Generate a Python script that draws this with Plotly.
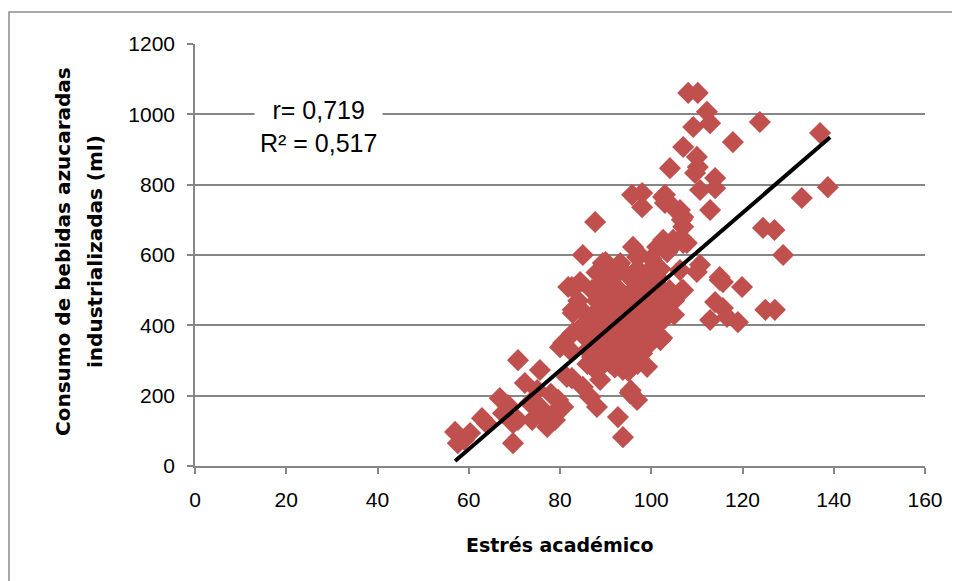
import plotly.graph_objects as go

# Scattered / outer points (Estrés académico, Consumo ml)
outer_x = [57, 57.6, 60.3, 62.9, 70.8, 66.8, 68.6, 69.7, 69.7, 72.3, 75.6, 75, 75.6, 77.2, 79.3, 79.6, 78.9,
           80.7, 82.2, 82.8, 82.8, 82.6, 82.6, 73.4, 70.8, 73.9, 81.8, 82.8, 80, 81.5, 80.7, 85, 86.6, 88.1,
           95.3, 96.9, 92.7, 93.8, 99.1, 107, 103.5, 102, 88.8, 93.8, 91, 96.9, 85, 87.7, 89.4, 93.2, 90.3,
           84.4, 96, 96.9, 97.5, 101.3, 103.5, 105.6, 107.8, 99.7, 101.3, 106.3, 95.8, 98, 98, 102.6, 104.8,
           107, 107, 103, 106.3, 112.9, 106.7, 102.6, 107, 104.8, 110.7, 115, 108.1, 110.2, 112.2, 109.2,
           112.9, 117.9, 107, 110, 104.1, 110.2, 109.6, 114, 110.7, 114, 103, 123.8, 137, 133, 138.7, 124.5,
           127, 128.9, 115.7, 119.9, 115.7, 125, 127.1, 119, 116.6, 115, 106.7, 114, 112.9, 103.5, 102.4,
           104, 110, 59, 64, 67.5, 78, 76, 95.5]
outer_y = [97, 65, 94, 136, 301, 193, 173, 122, 65, 236, 273, 216, 168, 111, 159, 188, 131,
           350, 330, 435, 378, 250, 509, 179, 131, 131, 509, 444, 338, 253, 168, 225, 196, 168,
           208, 188, 139, 82, 282, 500, 464, 358, 245, 273, 293, 310, 600, 694, 577, 577, 549,
           523, 623, 594, 600, 623, 608, 637, 634, 557, 537, 557, 771, 776, 736, 765, 736,
           708, 680, 748, 728, 728, 700, 643, 634, 643, 572, 537, 1061, 1061, 1007, 964,
           975, 921, 907, 879, 847, 850, 833, 819, 785, 790, 771, 978, 947, 762, 793, 677,
           671, 600, 523, 509, 449, 444, 444, 409, 424, 529, 500, 466, 415, 435, 364,
           480, 552, 75, 120, 150, 205, 145, 215]

# Dense central cluster
core_x = [84, 85, 85, 86, 86, 86, 87, 87, 87, 87, 88, 88, 88, 88, 88, 89, 89, 89, 89, 89, 90, 90, 90, 90, 90,
          91, 91, 91, 91, 91, 92, 92, 92, 92, 92, 93, 93, 93, 93, 94, 94, 94, 94, 94, 95, 95, 95, 95, 95,
          96, 96, 96, 96, 97, 97, 97, 97, 97, 98, 98, 98, 98, 99, 99, 99, 99, 100, 100, 100, 100, 100,
          101, 101, 101, 101, 102, 102, 102, 103, 103, 104, 104, 105, 105]
core_y = [470, 440, 400, 360, 330, 290, 500, 420, 380, 310, 550, 470, 440, 350, 270, 520, 410, 380, 320, 290,
          580, 490, 450, 360, 300, 560, 520, 430, 400, 330, 540, 480, 450, 370, 280, 500, 420, 350, 310,
          470, 440, 390, 330, 290, 540, 450, 410, 360, 270, 500, 430, 380, 330, 560, 470, 400, 350, 290,
          520, 440, 370, 320, 480, 420, 390, 340, 590, 500, 450, 400, 360, 520, 470, 430, 380, 560, 490,
          410, 450, 420, 500, 440, 470, 430]

# Linear trend line endpoints
trend_x = [57, 139.2]
trend_y = [14, 935]

x_ticks = [0, 20, 40, 60, 80, 100, 120, 140, 160]
y_ticks = [0, 200, 400, 600, 800, 1000, 1200]

red = "#C0504D"
grid = "#868686"
font_fam = "Liberation Sans, Arial, sans-serif"
title_fam = "DejaVu Sans, Liberation Sans, sans-serif"

# target screen pixels of the plot area; page body adds an 8px offset
OFF = 8
L, R, T, B = 195, 925, 44, 466
W, H = R - L, B - T

def px(xp):
    return (xp - L) / W

def py(yp):
    return (B - yp) / H

fig = go.Figure()
fig.add_trace(go.Scatter(x=outer_x + core_x, y=outer_y + core_y, mode="markers",
                         marker=dict(symbol="diamond", size=17, color=red, line=dict(width=0)),
                         showlegend=False, hoverinfo="skip"))
fig.add_trace(go.Scatter(x=trend_x, y=trend_y, mode="lines",
                         line=dict(color="black", width=4), showlegend=False, hoverinfo="skip"))

fig.update_layout(
    width=960, height=581,
    margin=dict(l=L - OFF, r=960 - R + OFF, t=T - OFF, b=581 - B + OFF, autoexpand=False),
    paper_bgcolor="white", plot_bgcolor="white",
    font=dict(family=font_fam, size=20, color="black"),
    xaxis=dict(range=[0, 160], tickvals=x_ticks, ticktext=[str(v) for v in x_ticks],
               showgrid=False, zeroline=False, showline=True, linecolor=grid, linewidth=1.5,
               ticks="outside", ticklen=6, tickcolor=grid, tickwidth=1.5, automargin=False,
               ticklabelstandoff=8,
               tickfont=dict(size=21, family=font_fam)),
    yaxis=dict(range=[0, 1200], tickvals=y_ticks, ticktext=[str(v) for v in y_ticks],
               showgrid=True, gridcolor=grid, gridwidth=1.5, zeroline=False,
               showline=True, linecolor=grid, linewidth=1.5,
               ticks="outside", ticklen=6, tickcolor=grid, tickwidth=1.5, automargin=False,
               ticklabelstandoff=8,
               tickfont=dict(size=21, family=font_fam)),
)

# axis titles
fig.add_annotation(xref="paper", yref="paper", x=px(560), y=py(545), xanchor="center", yanchor="middle",
                   text="<b>Estrés académico</b>", showarrow=False,
                   font=dict(size=19, family=title_fam, color="black"))
fig.add_annotation(xref="paper", yref="paper", x=px(63), y=py(252), xanchor="center", yanchor="middle",
                   text="<b>Consumo de bebidas azucaradas</b>", showarrow=False,
                   textangle=-90, font=dict(size=20, family=title_fam, color="black"))
fig.add_annotation(xref="paper", yref="paper", x=px(95), y=py(252), xanchor="center", yanchor="middle",
                   text="<b>industrializadas (ml)</b>", showarrow=False,
                   textangle=-90, font=dict(size=20, family=title_fam, color="black"))

fig.add_annotation(xref="paper", yref="paper", x=px(318), y=py(126), xanchor="center", yanchor="middle",
                   text="r= 0,719<br>R² = 0,517", showarrow=False, align="center",
                   font=dict(size=25, family=font_fam, color="black"),
                   bgcolor="white", borderpad=5)

fig.add_shape(type="rect", xref="paper", yref="paper",
              x0=px(9), x1=px(955), y0=py(600), y1=py(12),
              line=dict(color="#8C8C8C", width=1.5), fillcolor="rgba(0,0,0,0)", layer="below")

fig.write_html("out.html")
